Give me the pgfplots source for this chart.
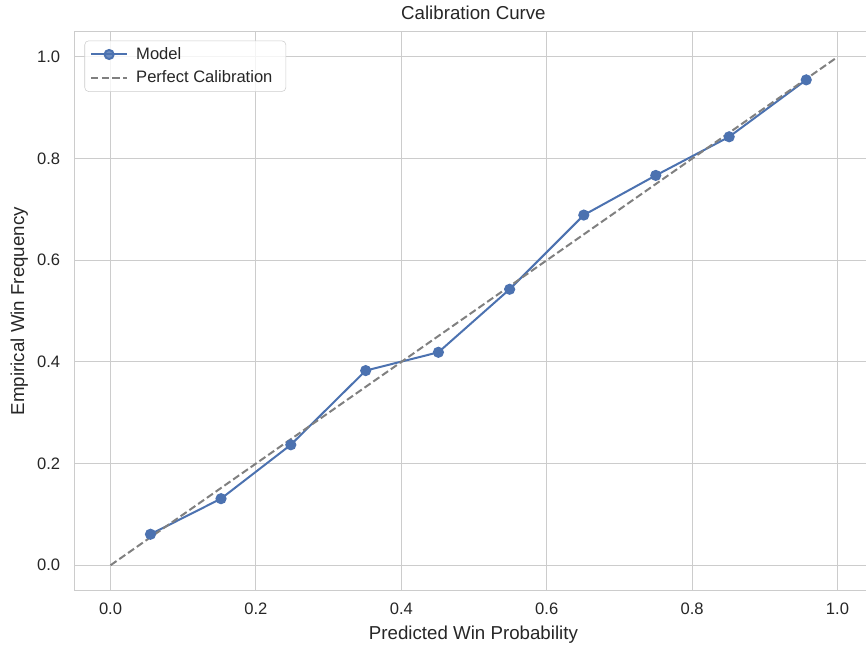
\documentclass[border=0pt]{standalone}
\usepackage{fontspec}
\setmainfont{Liberation Sans}
\usepackage{pgfplots}
\pgfplotsset{compat=1.18}

\definecolor{sbblue}{HTML}{4C72B0}
\definecolor{gridc}{HTML}{CCCCCC}
\definecolor{txt}{HTML}{262626}

\begin{document}
\begin{tikzpicture}
\begin{axis}[
  scale only axis,
  width=593pt, height=418.5pt,
  xmin=-0.05, xmax=1.0397,
  ymin=-0.05, ymax=1.05,
  axis x line*=box, axis y line*=left,
  axis line style={gridc, line width=0.95pt, -},
  xtick={0,0.2,...,1.0}, ytick={0,0.2,...,1.0},
  grid=major,
  major grid style={gridc, line width=0.75pt},
  tick style={draw=none},
  /pgf/number format/assume math mode=true,
  /pgf/number format/.cd, fixed, fixed zerofill, precision=1, /pgfplots/.cd,
  tick label style={font=\fontsize{12.4}{15}\selectfont, text=txt},
  xticklabel style={yshift=-5.5pt},
  yticklabel style={xshift=-7pt},
  title={Calibration Curve},
  title style={font=\fontsize{14}{17}\selectfont, text=txt, at={(0.504,1)}, yshift=-1pt},
  xlabel={Predicted Win Probability},
  ylabel={Empirical Win Frequency},
  label style={font=\fontsize{14}{17}\selectfont, text=txt},
  xlabel style={at={(ticklabel cs:0.504)}, yshift=-2pt},
  ylabel style={yshift=0pt},
  legend style={at={(0.013,0.984)}, anchor=north west, draw=gridc,
    rounded corners=3pt, fill=white, fill opacity=0.8, text opacity=1,
    font=\fontsize{12.4}{15}\selectfont, text=txt,
    inner xsep=4pt, inner ysep=3pt, row sep=3pt,
    nodes={inner xsep=6pt}},
  legend cell align=left,
  legend image code/.code={
    \draw[mark repeat=2, mark phase=2, #1] plot coordinates {(0cm,0cm) (0.475cm,0cm) (0.95cm,0cm)};
  },
]
\addplot[sbblue, line width=1.5pt, mark=*, mark size=3.4pt, mark options={solid, fill=sbblue, draw=sbblue}] coordinates {
  (0.055, 0.061)
  (0.152, 0.131)
  (0.248, 0.237)
  (0.351, 0.383)
  (0.451, 0.419)
  (0.549, 0.543)
  (0.651, 0.689)
  (0.750, 0.767)
  (0.851, 0.843)
  (0.957, 0.955)
};
\addlegendentry{Model}
\addplot[gray, line width=1.5pt, dash pattern=on 5.5pt off 2.5pt] coordinates {
  (0, 0) (1, 1)
};
\addlegendentry{Perfect Calibration}
\end{axis}
\path (current bounding box.west) ++(-4.5pt,0);
\path (current bounding box.north) ++(0,1.5pt);
\end{tikzpicture}
\end{document}
